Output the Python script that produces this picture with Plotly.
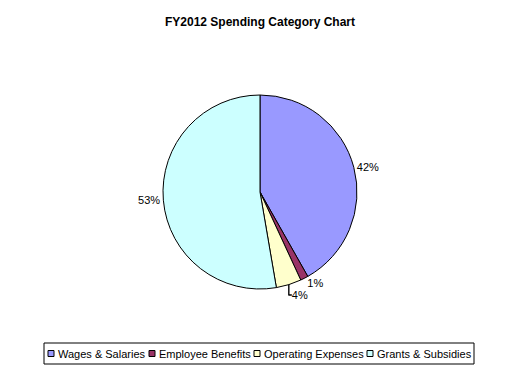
import plotly.graph_objects as go

categories = ["Wages & Salaries", "Employee Benefits", "Operating Expenses", "Grants & Subsidies"]
values = [41.8, 1.3, 4.2, 52.7]
colors = ["#9999FF", "#993366", "#FFFFCC", "#CCFFFF"]

W, H = 520, 373
OFF = 8  # page body margin offset
FONT = "Liberation Sans, Arial, sans-serif"

def px(x):
    return (x - OFF) / W

def py(y):
    return 1 - (y - OFF) / H

fig = go.Figure(go.Pie(
    labels=categories,
    values=values,
    sort=False,
    direction="clockwise",
    rotation=0,
    marker=dict(colors=colors, line=dict(color="black", width=1)),
    textposition="outside",
    texttemplate="%{percent:.0%}",
    textfont=dict(family=FONT, size=11, color="black"),
    domain=dict(x=[px(163), px(357)], y=[py(289), py(95)]),
    hoverinfo="label+percent",
    showlegend=False,
))

# custom legend (layout only): box, squares, labels
legend_box = (44, 343, 474, 364)   # px in page: x0, y0, x1, y1
swatch_x = [48, 149, 254, 367]     # px left edge of each swatch
swatch_size = 6
legend_cy = 353.5

shapes = [dict(type="rect", xref="paper", yref="paper",
               x0=px(legend_box[0]), x1=px(legend_box[2]),
               y0=py(legend_box[3]), y1=py(legend_box[1]),
               line=dict(color="black", width=1), fillcolor="white", layer="below")]
annotations = []
for cat, col, sx in zip(categories, colors, swatch_x):
    shapes.append(dict(type="rect", xref="paper", yref="paper",
                       x0=px(sx), x1=px(sx + swatch_size),
                       y0=py(legend_cy + swatch_size / 2),
                       y1=py(legend_cy - swatch_size / 2),
                       line=dict(color="black", width=1), fillcolor=col))
    annotations.append(dict(text=cat, xref="paper", yref="paper",
                            x=px(sx + swatch_size + 2), y=py(legend_cy),
                            xanchor="left", yanchor="middle", showarrow=False,
                            font=dict(family=FONT, size=11, color="black")))

fig.update_layout(
    width=W, height=H,
    margin=dict(l=0, r=0, t=0, b=0),
    paper_bgcolor="white",
    plot_bgcolor="white",
    font=dict(family=FONT, size=11, color="black"),
    title=dict(text="<b>FY2012 Spending Category Chart</b>", x=px(260), xanchor="center",
               y=py(22), yanchor="middle",
               font=dict(size=12, family=FONT, color="black")),
    shapes=shapes,
    annotations=annotations,
    showlegend=False,
)
fig.write_html("out.html")
